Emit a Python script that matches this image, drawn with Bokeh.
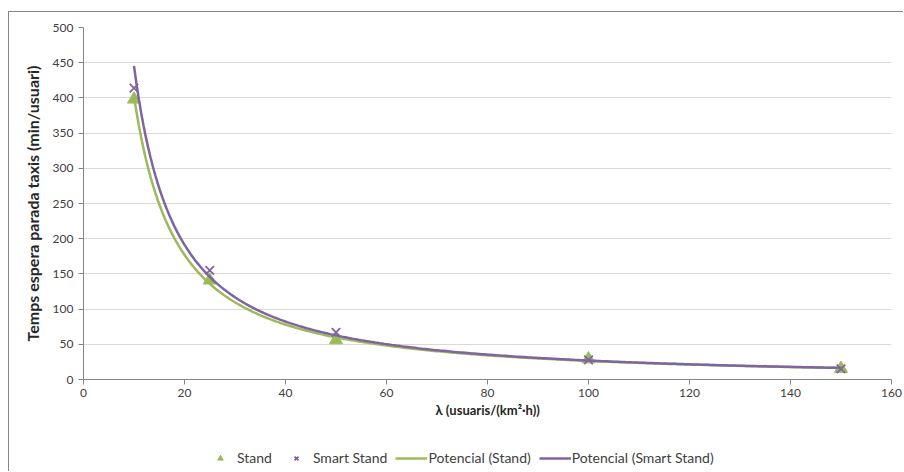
import numpy as np
from bokeh.plotting import figure
from bokeh.layouts import column
from bokeh.models import Legend, LegendItem, Range1d, FixedTicker
from bokeh.embed import file_html
from bokeh.resources import INLINE

# Arrival rate of users (users / (km^2 h)) and mean waiting time (min/user)
lam = [10, 25, 50, 100, 150]
stand = [398, 141, 56, 29, 15.5]
smart_stand = [414, 155, 67, 28, 15]

x_ticks = [0, 20, 40, 60, 80, 100, 120, 140, 160]
y_ticks = [0, 50, 100, 150, 200, 250, 300, 350, 400, 450, 500]

GREEN = "#9BBB59"
PURPLE = "#8064A2"
FONT = "Lato"
TEXT = "#404040"
AXIS = "#868686"
BORDER = f"1px solid {AXIS}"


def power_fit(x, y):
    """Least-squares fit of y = a * x**b in log-log space."""
    b, ln_a = np.polyfit(np.log(x), np.log(y), 1)
    return np.exp(ln_a), b


xs = np.linspace(min(lam), max(lam), 300)
a1, b1 = power_fit(lam, stand)
a2, b2 = power_fit(lam, smart_stand)
fit_stand = a1 * xs ** b1
fit_smart = a2 * xs ** b2

# ---- main chart -------------------------------------------------------
p = figure(
    width=895, height=408,
    x_range=Range1d(0, 160), y_range=Range1d(0, 500),
    output_backend="svg", toolbar_location=None,
    min_border_left=74, min_border_right=13,
    min_border_top=15, min_border_bottom=41,
)
p.styles = {"margin-left": "8px", "margin-top": "11px",
            "border-left": BORDER, "border-top": BORDER}
p.outline_line_color = None
p.background_fill_color = "white"
p.border_fill_color = "white"

stand_style = dict(marker="triangle", size=13, fill_color=GREEN, line_color=GREEN)
smart_style = dict(marker="x", size=12, line_color=PURPLE, line_width=1.8)
fit1_style = dict(line_color=GREEN, line_width=2.5)
fit2_style = dict(line_color=PURPLE, line_width=2.5)

p.scatter(lam, stand, **stand_style)
p.line(xs, fit_stand, **fit1_style)
p.line(xs, fit_smart, **fit2_style)
p.scatter(lam, smart_stand, **smart_style)

p.xgrid.grid_line_color = None
p.ygrid.grid_line_color = "#D9D9D9"
p.ygrid.grid_line_width = 1
p.ygrid.ticker = FixedTicker(ticks=y_ticks[1:])

for ax, ticks in ((p.xaxis, x_ticks), (p.yaxis, y_ticks)):
    ax.ticker = FixedTicker(ticks=ticks)
    ax.axis_line_color = AXIS
    ax.major_tick_line_color = AXIS
    ax.major_tick_out = 5
    ax.major_tick_in = 0
    ax.minor_tick_line_color = None
    ax.major_label_text_font = FONT
    ax.major_label_text_font_size = "12px"
    ax.major_label_text_color = TEXT
    ax.axis_label_text_font = FONT
    ax.axis_label_text_font_style = "bold"
    ax.axis_label_text_color = "#262626"

p.xaxis.axis_label = "λ (usuaris/(km²·h))"
p.xaxis.axis_label_text_font_size = "13px"
p.yaxis.axis_label = "Temps espera parada taxis (min/usuari)"
p.yaxis.axis_label_text_font_size = "16px"
p.xaxis.major_label_standoff = 4
p.xaxis.axis_label_standoff = 2
p.yaxis.major_label_standoff = 5
p.yaxis.axis_label_standoff = 8

# ---- legend strip underneath -------------------------------------------
# The key figure reuses the same series; its ranges keep them out of view
# so that only the legend entries show.  Its side borders equal the main
# chart's, since the column lines the two frames up.
lg = figure(
    width=895, height=52, x_range=Range1d(0, 1), y_range=Range1d(-2, -1),
    output_backend="svg", toolbar_location=None,
    x_axis_type=None, y_axis_type=None,
    min_border=0, min_border_left=74, min_border_right=13,
)
lg.styles = {"margin-left": "8px", "border-left": BORDER}
lg.outline_line_color = None
lg.grid.grid_line_color = None
lg.background_fill_color = "white"
lg.border_fill_color = "white"

k_stand = lg.scatter(lam, stand, **stand_style)
k_smart = lg.scatter(lam, smart_stand, **smart_style)
k_fit1 = lg.line(xs, fit_stand, **fit1_style)
k_fit2 = lg.line(xs, fit_smart, **fit2_style)

legend = Legend(
    items=[
        LegendItem(label="Stand", renderers=[k_stand]),
        LegendItem(label="Smart Stand", renderers=[k_smart]),
        LegendItem(label="Potencial (Stand)", renderers=[k_fit1]),
        LegendItem(label="Potencial (Smart Stand)", renderers=[k_fit2]),
    ],
    orientation="horizontal", location=(121, 5),
    label_text_font=FONT, label_text_font_size="14px", label_text_color=TEXT,
    glyph_width=32, glyph_height=14, label_standoff=1, spacing=8,
    border_line_color=None, background_fill_alpha=0, padding=4, margin=0,
)
lg.add_layout(legend)

open("out.html", "w").write(file_html(column(p, lg), INLINE))
